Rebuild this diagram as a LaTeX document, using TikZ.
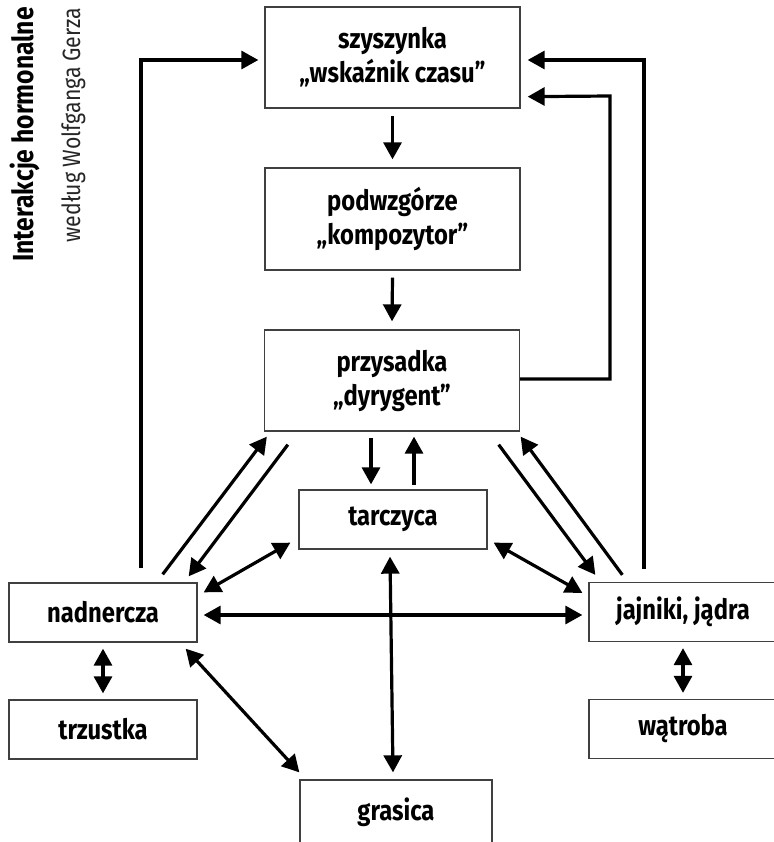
\documentclass[tikz,border=0pt]{standalone}
\usepackage{fontspec}
\usetikzlibrary{arrows.meta,calc}
\newfontfamily\boxfont[FakeStretch=0.85]{Fira Sans}
\begin{document}
\begin{tikzpicture}[x=1pt,y=-1pt,
  box/.style={draw=black!75,line width=1.3pt,align=center,inner sep=0pt,
    font=\boxfont\bfseries\fontsize{28}{34}\selectfont},
  arr/.style={line width=3.2pt,-{Triangle[length=17pt,width=18pt]}},
  darr/.style={line width=3.2pt,{Triangle[length=17pt,width=18pt]}-{Triangle[length=17pt,width=18pt]}},
  fb/.style={line width=3.2pt,-{Triangle[length=17pt,width=18pt]}}]
\useasboundingbox (0,0) rectangle (773,842);
% title
\node[rotate=90,anchor=base east,inner sep=0pt,
  font=\boxfont\bfseries\fontsize{29}{32}\selectfont] (title) at (33,7) {Interakcje hormonalne};
\node[rotate=90,anchor=base east,inner sep=0pt,text=black!85,
  font=\boxfont\fontsize{25}{30}\selectfont] (subtitle) at (80,8) {według Wolfganga Gerza};
% boxes
\node[box,minimum width=255pt,minimum height=101pt] (sz) at (392.5,57.5) {szyszynka\\„wskaźnik czasu”};
\node[box,minimum width=255pt,minimum height=102pt] (pod) at (392.5,219) {podwzgórze\\„kompozytor”};
\node[box,minimum width=255pt,minimum height=101pt] (prz) at (392,380.5) {przysadka\\„dyrygent”};
\node[box,minimum width=188pt,minimum height=59pt] (tar) at (393,519.5) {tarczyca};
\node[box,minimum width=188pt,minimum height=59pt] (nad) at (103,612.5) {nadnercza};
\node[box,minimum width=188pt,minimum height=59pt] (trz) at (103,729.5) {trzustka};
\node[box,minimum width=188pt,minimum height=59pt] (jaj) at (683,612) {jajniki, jądra};
\node[box,minimum width=188pt,minimum height=59pt] (wat) at (683,729) {wątroba};
\node[box,minimum width=192pt,minimum height=64pt] (gra) at (396,812) {grasica};
% vertical chain
\draw[arr] ([yshift=-7pt]sz.south) -- ([yshift=8pt]pod.north);
\draw[arr] ([yshift=-7pt]pod.south) -- ([yshift=8pt]prz.north);
\draw[arr] ([xshift=-21pt,yshift=-6pt]prz.south) -- ([xshift=-22pt,yshift=5pt]tar.north);
\draw[arr] ([xshift=21pt,yshift=4pt]tar.north) -- ([xshift=22pt,yshift=-5pt]prz.south);
% left pair
\draw[arr] ([xshift=-35pt,yshift=8pt]nad.north east) -- ([xshift=3pt,yshift=-5pt]prz.south west);
\draw[arr] ([xshift=24pt,yshift=-13pt]prz.south west) -- ([xshift=-9pt,yshift=6pt]nad.north east);
% right pair
\draw[arr] ([xshift=-21.5pt,yshift=-13pt]prz.south east) -- ([xshift=7pt,yshift=7pt]jaj.north west);
\draw[arr] ([xshift=34pt,yshift=7pt]jaj.north west) -- ([xshift=0.5pt,yshift=-5pt]prz.south east);
% double arrows
\draw[darr] ([xshift=-8pt,yshift=7pt]tar.south west) -- ([xshift=6pt,yshift=-10pt]nad.north east);
\draw[darr] ([xshift=6pt,yshift=7pt]tar.south east) -- ([xshift=-6pt,yshift=-11pt]jaj.north west);
\draw[darr] ([xshift=6pt,yshift=-2.5pt]nad.east) -- ([xshift=-6pt,yshift=-3pt]jaj.west);
\draw[darr] ([xshift=-3pt,yshift=-7pt]tar.south) -- ([xshift=-3pt,yshift=7pt]gra.north);
\draw[darr] ([xshift=-12pt,yshift=-6pt]nad.south east) -- ([yshift=7pt]gra.north west);
\draw[darr] ([yshift=-6pt]nad.south) -- ([yshift=6pt]trz.north);
\draw[darr] ([yshift=-6pt]jaj.south) -- ([yshift=6pt]wat.north);
% feedback loops
\draw[fb] ([xshift=38pt,yshift=14pt]nad.north) |- ([xshift=-6pt,yshift=-2.5pt]sz.west);
\draw[fb] ([xshift=-39pt,yshift=13pt]jaj.north) |- ([xshift=7pt,yshift=-2.5pt]sz.east);
\coordinate (rin) at (610,96);
\draw[fb] ([yshift=1.5pt]prz.east) -| (rin) -- ([xshift=7pt,yshift=12pt]sz.south east);
\end{tikzpicture}
\end{document}
